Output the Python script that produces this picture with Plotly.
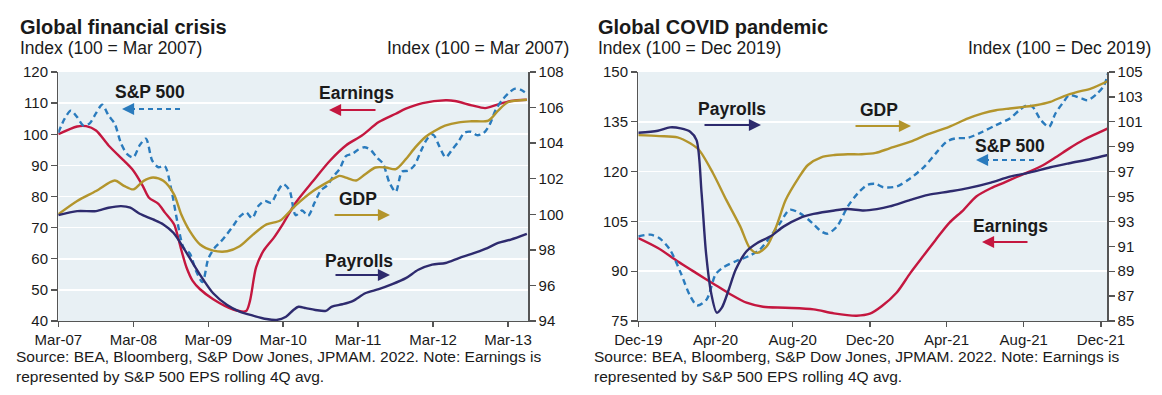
import plotly.graph_objects as go

W, H = 1162, 395

# ---------------- Global financial crisis (left panel) ----------------
gfc_spx_dates = [
    "2007-03-01", "2007-04-01", "2007-05-01", "2007-06-01", "2007-07-01", "2007-08-01",
    "2007-09-01", "2007-10-01", "2007-11-01", "2007-12-01", "2008-01-01", "2008-02-01",
    "2008-03-01", "2008-04-01", "2008-05-01", "2008-06-01", "2008-07-01", "2008-08-01",
    "2008-09-01", "2008-10-01", "2008-11-01", "2008-12-01", "2009-01-01", "2009-02-01",
    "2009-03-01", "2009-04-01", "2009-05-01", "2009-06-01", "2009-07-01", "2009-08-01",
    "2009-09-01", "2009-10-01", "2009-11-01", "2009-12-01", "2010-01-01", "2010-02-01",
    "2010-03-01", "2010-04-01", "2010-05-01", "2010-06-01", "2010-07-01", "2010-08-01",
    "2010-09-01", "2010-10-01", "2010-11-01", "2010-12-01", "2011-01-01", "2011-02-01",
    "2011-03-01", "2011-04-01", "2011-05-01", "2011-06-01", "2011-07-01", "2011-08-01",
    "2011-09-01", "2011-10-01", "2011-11-01", "2011-12-01", "2012-01-01", "2012-02-01",
    "2012-03-01", "2012-04-01", "2012-05-01", "2012-06-01", "2012-07-01", "2012-08-01",
    "2012-09-01", "2012-10-01", "2012-11-01", "2012-12-01", "2013-01-01", "2013-02-01",
    "2013-03-01", "2013-04-01", "2013-05-01", "2013-06-01"]
gfc_spx = [
    100.5, 105.0, 107.6, 105.5, 102.8, 103.5, 106.8, 109.5, 106.0, 103.4, 97.0, 93.5,
    92.6, 96.5, 98.6, 91.5, 89.4, 89.8, 82.5, 72.0, 63.5, 61.7, 56.0, 52.5,
    60.0, 63.5, 65.5, 68.0, 70.6, 73.5, 74.9, 73.0, 77.0, 78.6, 78.0, 81.5,
    84.0, 82.0, 74.0, 75.5, 73.8, 78.0, 82.0, 83.5, 86.5, 88.8, 93.0, 93.7,
    95.0, 95.8, 95.0, 92.5, 90.5, 84.5, 81.5, 88.0, 88.3, 90.0, 94.5, 98.5,
    99.9, 96.0, 92.6, 95.0, 97.5, 100.5, 100.8, 99.7, 100.3, 103.0, 108.0, 111.0,
    113.0, 114.6, 114.3, 113.0]

gfc_earn_dates = [
    "2007-03-01", "2007-06-01", "2007-07-15", "2007-09-01", "2007-11-01", "2008-01-15",
    "2008-03-01", "2008-04-15", "2008-05-15", "2008-07-01", "2008-08-01", "2008-09-15",
    "2008-10-05", "2008-10-22", "2008-11-15", "2008-12-15", "2009-01-20", "2009-03-25",
    "2009-07-01", "2009-09-01", "2009-09-20", "2009-10-20", "2009-11-25", "2010-01-15",
    "2010-03-01", "2010-05-01", "2010-07-25", "2010-10-15", "2011-01-01", "2011-03-20",
    "2011-06-10", "2011-09-01", "2011-10-20", "2012-01-10", "2012-05-01", "2012-06-15",
    "2012-09-05", "2012-11-10", "2013-01-12", "2013-03-15", "2013-06-01"]
gfc_earn = [
    100.0, 102.5, 102.6, 101.2, 96.4, 91.5,
    88.3, 83.5, 79.7, 77.6, 74.9, 71.1,
    66.8, 62.5, 57.2, 52.9, 50.2, 47.0,
    43.7, 43.2, 46.4, 57.2, 62.5, 66.8,
    71.3, 78.0, 85.0, 91.5, 96.4, 99.6,
    103.9, 106.6, 108.2, 110.0, 110.9, 110.7,
    109.3, 108.4, 109.6, 110.7, 111.1]

gfc_gdp_dates = [
    "2007-03-01", "2007-06-01", "2007-09-01", "2007-12-01", "2008-01-15", "2008-03-01",
    "2008-04-20", "2008-06-05", "2008-07-25", "2008-09-15", "2008-10-20", "2008-12-01",
    "2009-01-20", "2009-03-25", "2009-06-01", "2009-08-01", "2009-10-05", "2009-12-10",
    "2010-02-15", "2010-04-05", "2010-05-01", "2010-07-25", "2010-10-15", "2010-12-01",
    "2011-01-01", "2011-02-20", "2011-04-05", "2011-05-25", "2011-07-15", "2011-09-01",
    "2011-10-20", "2011-12-05", "2012-01-25", "2012-03-10", "2012-04-28", "2012-07-05",
    "2012-09-05", "2012-11-25", "2013-01-12", "2013-03-01", "2013-06-01"]
gfc_gdp = [
    100.0, 100.75, 101.31, 101.9, 101.6, 101.4,
    101.88, 102.07, 101.88, 101.12, 100.0, 99.05,
    98.3, 97.96, 97.92, 98.2, 98.86, 99.43,
    99.65, 100.2, 100.5, 101.31, 101.88, 102.16,
    102.06, 101.9, 102.25, 102.63, 102.63, 102.54,
    103.1, 103.76, 104.36, 104.7, 104.98, 105.17,
    105.23, 105.27, 105.83, 106.3, 106.44]

gfc_pay_dates = [
    "2007-03-01", "2007-06-01", "2007-09-01", "2007-11-01", "2008-01-01", "2008-02-15",
    "2008-04-01", "2008-06-05", "2008-07-25", "2008-09-12", "2008-11-01", "2008-12-20",
    "2009-02-05", "2009-03-25", "2009-06-01", "2009-08-01", "2009-10-05", "2009-12-10",
    "2010-01-28", "2010-03-15", "2010-04-20", "2010-05-15", "2010-06-20", "2010-08-05",
    "2010-09-25", "2010-10-25", "2010-12-15", "2011-02-05", "2011-04-05", "2011-06-10",
    "2011-08-15", "2011-10-20", "2011-12-20", "2012-02-25", "2012-05-01", "2012-07-05",
    "2012-09-05", "2012-11-10", "2013-01-12", "2013-03-15", "2013-06-01"]
gfc_pay = [
    99.95, 100.18, 100.18, 100.37, 100.46, 100.37,
    100.03, 99.71, 99.43, 98.96, 98.1, 97.17,
    96.32, 95.56, 94.9, 94.53, 94.3, 94.11,
    94.06, 94.24, 94.62, 94.8, 94.72, 94.62,
    94.57, 94.81, 94.94, 95.13, 95.56, 95.79,
    96.07, 96.41, 96.88, 97.17, 97.26, 97.54,
    97.77, 98.05, 98.39, 98.58, 98.9]

# ---------------- Global COVID pandemic (right panel) ----------------
cov_earn_dates = [
    "2019-12-01", "2020-01-01", "2020-02-01", "2020-03-01", "2020-03-28", "2020-04-25",
    "2020-05-20", "2020-06-15", "2020-07-20", "2020-09-03", "2020-10-05", "2020-11-10",
    "2020-12-01", "2020-12-20", "2021-01-12", "2021-02-03", "2021-02-25", "2021-03-15",
    "2021-04-05", "2021-04-28", "2021-05-18", "2021-06-10", "2021-07-01", "2021-07-20",
    "2021-08-10", "2021-09-01", "2021-09-22", "2021-10-12", "2021-11-03", "2021-11-25",
    "2021-12-12"]
cov_earn = [
    100.0, 97.0, 93.0, 89.5, 86.3, 83.0,
    80.5, 79.3, 79.0, 78.5, 77.3, 76.6,
    77.2, 79.5, 83.5, 89.5, 95.0, 99.5,
    104.5, 108.5, 112.5, 115.0, 116.7, 118.3,
    120.0, 122.0, 124.5, 127.0, 129.5, 131.5,
    133.0]

cov_spx_dates = [
    "2019-12-01", "2019-12-20", "2020-01-03", "2020-01-20", "2020-02-06", "2020-02-21",
    "2020-03-03", "2020-03-18", "2020-04-01", "2020-04-12", "2020-05-03", "2020-05-25",
    "2020-06-10", "2020-06-27", "2020-07-12", "2020-07-27", "2020-08-12", "2020-09-01",
    "2020-09-15", "2020-09-25", "2020-10-10", "2020-10-27", "2020-11-12", "2020-11-27",
    "2020-12-10", "2020-12-22", "2021-01-12", "2021-02-03", "2021-02-25", "2021-03-15",
    "2021-04-01", "2021-04-15", "2021-05-05", "2021-05-28", "2021-06-18", "2021-07-10",
    "2021-07-25", "2021-08-06", "2021-08-15", "2021-08-28", "2021-09-10", "2021-09-20",
    "2021-10-03", "2021-10-12", "2021-11-01", "2021-11-10", "2021-11-25", "2021-12-06",
    "2021-12-12"]
cov_spx = [
    100.5, 101.0, 100.0, 96.5, 89.5, 82.5,
    79.7, 81.5, 89.0, 91.0, 93.0, 94.7,
    96.5, 100.5, 104.5, 108.5, 107.5, 104.5,
    102.0, 101.3, 103.5, 109.5, 113.5, 116.0,
    116.3, 115.3, 115.5, 118.0, 121.5, 125.5,
    129.0, 130.0, 130.2, 132.0, 134.0, 136.0,
    138.5, 140.0, 139.5, 135.5, 133.5, 137.5,
    141.0, 143.0, 142.0, 141.5, 143.5, 146.0,
    149.5]

cov_gdp_dates = [
    "2019-12-01", "2020-01-03", "2020-02-01", "2020-02-21", "2020-03-06", "2020-03-28",
    "2020-04-18", "2020-05-10", "2020-05-25", "2020-06-06", "2020-06-21", "2020-07-06",
    "2020-07-21", "2020-08-10", "2020-08-25", "2020-09-15", "2020-10-06", "2020-10-27",
    "2020-11-18", "2020-12-10", "2021-01-01", "2021-02-03", "2021-03-03", "2021-04-05",
    "2021-05-05", "2021-05-28", "2021-06-18", "2021-07-10", "2021-08-01", "2021-08-20",
    "2021-09-12", "2021-10-03", "2021-10-25", "2021-11-15", "2021-12-12"]
cov_gdp = [
    99.93, 99.85, 99.75, 99.27, 98.73, 96.87,
    94.73, 92.6, 90.87, 90.47, 91.0, 92.6,
    94.73, 96.47, 97.53, 98.15, 98.33, 98.39,
    98.39, 98.5, 98.87, 99.4, 100.01, 100.6,
    101.27, 101.67, 101.93, 102.07, 102.2, 102.33,
    102.6, 103.05, 103.4, 103.67, 104.28]

cov_pay_dates = [
    "2019-12-01", "2020-01-01", "2020-01-20", "2020-02-06", "2020-02-21", "2020-03-02",
    "2020-03-10", "2020-03-17", "2020-03-25", "2020-04-03", "2020-04-11", "2020-04-22",
    "2020-05-03", "2020-05-20", "2020-06-06", "2020-06-27", "2020-07-18", "2020-08-12",
    "2020-09-03", "2020-10-06", "2020-10-27", "2020-11-21", "2020-12-12", "2021-01-01",
    "2021-02-03", "2021-03-03", "2021-04-05", "2021-05-05", "2021-06-10", "2021-07-10",
    "2021-08-10", "2021-09-12", "2021-10-12", "2021-11-15", "2021-12-12"]
cov_pay = [
    100.12, 100.28, 100.55, 100.47, 100.2, 99.53,
    95.27, 90.47, 87.27, 85.67, 86.07, 87.53,
    89.13, 90.6, 91.27, 91.8, 92.6, 93.27,
    93.6, 93.88, 93.99, 93.88, 93.99, 94.2,
    94.73, 95.13, 95.4, 95.67, 96.12, 96.6,
    96.92, 97.35, 97.67, 98.01, 98.33]

titles = ["Global financial crisis", "Global COVID pandemic"]
subtitles = ["Index (100 = Mar 2007)", "Index (100 = Dec 2019)"]
source_text = ("Source: BEA, Bloomberg, S&P Dow Jones, JPMAM. 2022. Note: Earnings is<br>"
               "represented by S&P 500 EPS rolling 4Q avg.")

# ---------------- styling ----------------
FONT = "Liberation Sans, Arial, sans-serif"
C_SPX = "#2a7bbd"
C_EARN = "#c4173f"
C_GDP = "#b3952c"
C_PAY = "#2e2b6e"
BG = "#e8f0f4"
AX = "#555555"
TXT = "#1a1a1a"
LW = 2.4


def px(x):
    return x / W


def py(y):
    return 1 - y / H


fig = go.Figure()


def add_line(xs, ys, color, xa, ya, dash=None):
    fig.add_trace(go.Scatter(
        x=xs, y=ys, mode="lines", xaxis=xa, yaxis=ya,
        line=dict(color=color, width=LW, shape="spline", smoothing=0.8,
                  dash=dash if dash else "solid"),
        hoverinfo="skip", showlegend=False))


# left panel
add_line(gfc_gdp_dates, gfc_gdp, C_GDP, "x", "y2")
add_line(gfc_pay_dates, gfc_pay, C_PAY, "x", "y2")
add_line(gfc_earn_dates, gfc_earn, C_EARN, "x", "y")
add_line(gfc_spx_dates, gfc_spx, C_SPX, "x", "y", dash="6px,4px")
# right panel
add_line(cov_gdp_dates, cov_gdp, C_GDP, "x2", "y4")
add_line(cov_pay_dates, cov_pay, C_PAY, "x2", "y4")
add_line(cov_earn_dates, cov_earn, C_EARN, "x2", "y3")
add_line(cov_spx_dates, cov_spx, C_SPX, "x2", "y3", dash="6px,4px")

TICKFONT = dict(family=FONT, size=15, color=TXT)
Y0, Y1 = py(321), py(72)
L_DOM = [px(58.3), px(528.3)]
R_DOM = [px(638.3), px(1107.3)]

common_x = dict(showline=True, linecolor=AX, linewidth=1.3, ticks="outside",
                ticklen=5, tickcolor=AX, tickwidth=1.3, showgrid=False,
                tickfont=TICKFONT, tickformat="%b-%y", zeroline=False, automargin=False)
common_y = dict(showline=True, linecolor=AX, linewidth=1.3, ticks="outside",
                ticklen=6, tickcolor=AX, tickwidth=1.3, tickfont=TICKFONT,
                zeroline=False, automargin=False)

fig.update_layout(
    width=W, height=H,
    margin=dict(l=0, r=0, t=0, b=0, autoexpand=False),
    paper_bgcolor="white",
    plot_bgcolor=BG,
    showlegend=False,
    font=dict(family=FONT, color=TXT),
    xaxis=dict(domain=L_DOM, anchor="y", range=["2007-03-01", "2013-06-08"],
               tick0="2007-03-01", dtick="M12", **common_x),
    yaxis=dict(domain=[Y0, Y1], anchor="x", range=[40, 120], tick0=40, dtick=10,
               showgrid=True, gridcolor="white", gridwidth=1.6, **common_y),
    yaxis2=dict(overlaying="y", side="right", anchor="x", range=[94, 108], tick0=94, dtick=2,
                showgrid=False, **common_y),
    xaxis2=dict(domain=R_DOM, anchor="y3", range=["2019-12-01", "2021-12-11"],
                tick0="2019-12-01", dtick="M4", **common_x),
    yaxis3=dict(domain=[Y0, Y1], anchor="x2", range=[75, 150], tick0=75, dtick=15,
                showgrid=True, gridcolor="white", gridwidth=1.6, **common_y),
    yaxis4=dict(overlaying="y3", side="right", anchor="x2", range=[85, 105], tick0=85, dtick=2,
                showgrid=False, **common_y),
)

ann = []
shapes = []

# titles & subtitles
for i, (tx, rx_end) in enumerate([(18, 571), (596, 1153)]):
    ann.append(dict(text="<b>%s</b>" % titles[i], x=px(tx), y=py(27), xref="paper", yref="paper",
                    xanchor="left", yanchor="middle", showarrow=False,
                    font=dict(family=FONT, size=20, color=TXT)))
    ann.append(dict(text=subtitles[i], x=px(tx), y=py(48), xref="paper", yref="paper",
                    xanchor="left", yanchor="middle", showarrow=False,
                    font=dict(family=FONT, size=17.5, color=TXT)))
    ann.append(dict(text=subtitles[i], x=px(rx_end), y=py(48), xref="paper", yref="paper",
                    xanchor="right", yanchor="middle", showarrow=False,
                    font=dict(family=FONT, size=17.5, color=TXT)))
    ann.append(dict(text=source_text, x=px(tx - 4), y=py(346), xref="paper", yref="paper",
                    xanchor="left", yanchor="top", align="left", showarrow=False,
                    font=dict(family=FONT, size=15.5, color=TXT)))

# series labels: (text, cx, cy)
labels = [("S&P 500", 150, 92), ("Earnings", 356, 93), ("GDP", 358, 199), ("Payrolls", 359, 261),
          ("Payrolls", 732, 109), ("GDP", 879, 110), ("S&P 500", 1010, 146), ("Earnings", 1010, 226)]
for t, cx, cy in labels:
    ann.append(dict(text="<b>%s</b>" % t, x=px(cx), y=py(cy), xref="paper", yref="paper",
                    xanchor="center", yanchor="middle", showarrow=False,
                    font=dict(family=FONT, size=17.5, color=TXT)))

# solid arrows: (tail_x, head_x, y, color)
solid_arrows = [(377, 329, 110, C_EARN), (333, 390, 215, C_GDP), (334, 390, 275, C_PAY),
                (703, 761, 125, C_PAY), (854, 911, 126, C_GDP), (1029, 982, 242, C_EARN)]
for tx_, hx, yy, col in solid_arrows:
    ann.append(dict(x=px(hx), y=py(yy), xref="paper", yref="paper", ax=tx_ - hx, ay=0,
                    text="", showarrow=True, arrowhead=2, arrowsize=1.1, arrowwidth=2.2,
                    arrowcolor=col, standoff=0))

# dashed arrows (S&P 500): dashed shaft + arrow head
dashed_arrows = [(180, 122, 109), (1034, 976, 160)]
for tx_, hx, yy in dashed_arrows:
    shapes.append(dict(type="line", xref="paper", yref="paper", x0=px(tx_), x1=px(hx + 8),
                       y0=py(yy), y1=py(yy), line=dict(color=C_SPX, width=2, dash="5px,4px")))
    ann.append(dict(x=px(hx), y=py(yy), xref="paper", yref="paper", ax=12, ay=0,
                    text="", showarrow=True, arrowhead=2, arrowsize=1.1, arrowwidth=2.2,
                    arrowcolor=C_SPX, standoff=0))

fig.update_layout(annotations=ann, shapes=shapes)
fig.write_html("out.html", config={"displayModeBar": False, "staticPlot": True},
               post_script="document.body.style.margin='0px';")
